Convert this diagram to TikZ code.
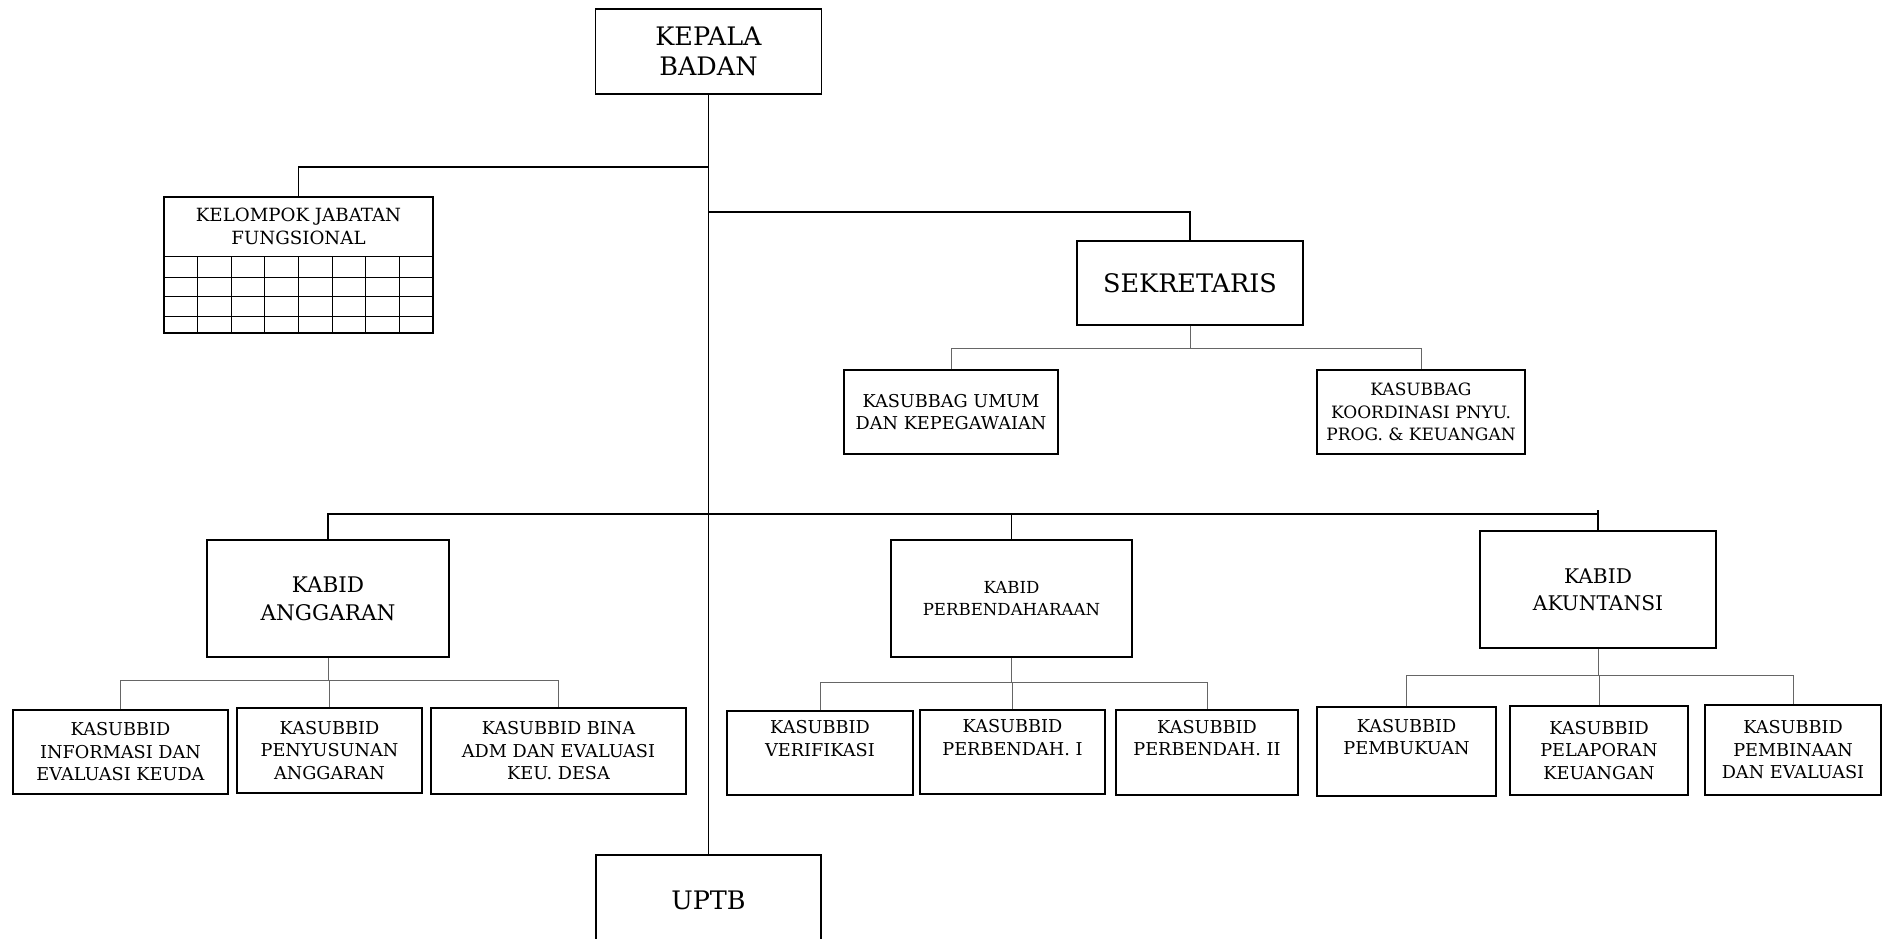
\documentclass[tikz,border=0pt]{standalone}
\usepackage{fontspec}
\setmainfont{DejaVu Serif}
\begin{document}
\begin{tikzpicture}[x=1pt,y=-1pt,
  box/.style={draw=black, line width=1.2pt, inner sep=0pt, align=center, fill=white},
  huge/.style={font=\fontsize{25.5}{30}\selectfont},
  big/.style={font=\fontsize{21.5}{28}\selectfont},
  small/.style={font=\fontsize{17.7}{22.5}\selectfont},
  main/.style={line width=1.8pt},
  sub/.style={line width=0.9pt, draw=black!60},
  gridline/.style={line width=0.8pt}]
\useasboundingbox (0,0) rectangle (1883,939);

% top level
\node[box,huge,minimum width=226pt,minimum height=85pt] (kepala) at (708.5,51.5) {KEPALA\\BADAN};
\node[box,minimum width=269pt,minimum height=136pt] (kelompok) at (298.5,265) {};
\node[small,font=\fontsize{18.2}{23}\selectfont,align=center,inner sep=0pt] (kjf) at (298.5,226.5) {KELOMPOK JABATAN\\FUNGSIONAL};
\foreach \y in {256,277,296,316} \draw[gridline] (164,\y) -- (433,\y);
\foreach \k in {1,...,7} \draw[gridline] (164+33.6*\k,256) -- (164+33.6*\k,333);

\node[box,huge,minimum width=226pt,minimum height=84pt] (sekretaris) at (1190,283) {SEKRETARIS};
\node[box,small,minimum width=214pt,minimum height=84pt] (umum) at (951,412) {KASUBBAG UMUM\\DAN KEPEGAWAIAN};
\node[box,small,font=\fontsize{17}{22.5}\selectfont,minimum width=208pt,minimum height=84pt] (koord) at (1421,412) {KASUBBAG\\KOORDINASI PNYU.\\PROG. \& KEUANGAN};

% kabid level
\node[box,big,minimum width=242pt,minimum height=117pt] (anggaran) at (328,598.5) {KABID\\ANGGARAN};
\node[box,small,font=\fontsize{16.6}{22}\selectfont,minimum width=241pt,minimum height=117pt] (perbend) at (1011.5,598.5) {KABID\\PERBENDAHARAAN};
\node[box,big,font=\fontsize{20.2}{27}\selectfont,minimum width=236pt,minimum height=117pt] (akuntansi) at (1598,589.5) {KABID\\AKUNTANSI};

% kasubbid level
\node[box,small,minimum width=215pt,minimum height=84pt] (info) at (120.5,752) {KASUBBID\\INFORMASI DAN\\EVALUASI KEUDA};
\node[box,small,minimum width=185pt,minimum height=85pt] (penyusunan) at (329.5,750.5) {KASUBBID\\PENYUSUNAN\\ANGGARAN};
\node[box,small,minimum width=255pt,minimum height=86pt] (bina) at (558.5,751) {KASUBBID BINA\\ADM DAN EVALUASI\\KEU. DESA};

\node[box,small,minimum width=186pt,minimum height=84pt] (verif) at (820,753) {KASUBBID\\VERIFIKASI\\\strut};
\node[box,small,minimum width=185pt,minimum height=84pt] (perb1) at (1012.5,752) {KASUBBID\\PERBENDAH. I\\\strut};
\node[box,small,minimum width=182pt,minimum height=85pt] (perb2) at (1207,752.5) {KASUBBID\\PERBENDAH. II\\\strut};

\node[box,small,minimum width=179pt,minimum height=89pt] (pembukuan) at (1406.5,751.5) {KASUBBID\\PEMBUKUAN\\\strut};
\node[box,small,minimum width=178pt,minimum height=89pt] (pelaporan) at (1599,750.5) {KASUBBID\\PELAPORAN\\KEUANGAN};
\node[box,small,minimum width=176pt,minimum height=90pt] (pembinaan) at (1793,750) {KASUBBID\\PEMBINAAN\\DAN EVALUASI};

\node[box,huge,minimum width=225pt,minimum height=90pt] (uptb) at (708.5,900) {UPTB};

% junction coordinates
\coordinate (jk) at (708.5,167);
\coordinate (js) at (708.5,212);
\coordinate (jb) at (708.5,514);
\coordinate (jsek) at (0,348);
\coordinate (jang) at (0,680);
\coordinate (jper) at (0,682);
\coordinate (jaku) at (0,675);

% main connectors
\draw[main] (kepala.south) -- (uptb.north);
\draw[main] (jk) -| (kelompok.north);
\draw[main] (js) -| (sekretaris.north);
\draw[main] (anggaran.north) |- (jb);
\draw[main] (jb) -| (akuntansi.north);
\draw[main] (perbend.north) -- (perbend.north |- jb);
\draw[main] ([yshift=4pt]akuntansi.north |- jb) -- (akuntansi.north);

% sekretaris children
\draw[sub] (sekretaris.south) -- (sekretaris.south |- jsek);
\draw[sub] (umum.north) |- (koord.north |- jsek) -- (koord.north);

% anggaran children
\draw[sub] (anggaran.south) -- (anggaran.south |- jang);
\draw[sub] (info.north) |- (bina.north |- jang) -- (bina.north);
\draw[sub] (penyusunan.north) -- (penyusunan.north |- jang);

% perbendaharaan children
\draw[sub] (perbend.south) -- (perbend.south |- jper);
\draw[sub] (verif.north) |- (perb2.north |- jper) -- (perb2.north);
\draw[sub] (perb1.north) -- (perb1.north |- jper);

% akuntansi children
\draw[sub] (akuntansi.south) -- (akuntansi.south |- jaku);
\draw[sub] (pembukuan.north) |- (pembinaan.north |- jaku) -- (pembinaan.north);
\draw[sub] (pelaporan.north) -- (pelaporan.north |- jaku);
\end{tikzpicture}
\end{document}
